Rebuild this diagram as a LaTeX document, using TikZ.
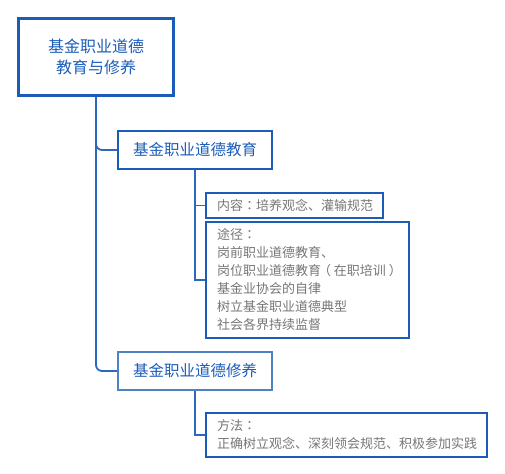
\documentclass[tikz,border=0pt]{standalone}
\usepackage{fontspec}
\newfontfamily\cjk{Noto Sans CJK SC}
\newfontfamily\cjkpunct{Noto Sans CJK TC}
\newcommand{\colonmark}{{\cjkpunct ：}}
\newcommand{\lparenmark}{\kern-0.22em（\kern0.22em}
\newcommand{\rparenmark}{\kern0.22em）\kern-0.22em}
\usetikzlibrary{positioning}
\definecolor{mainblue}{HTML}{1B5CB8}
\definecolor{lightblue}{HTML}{4F82C4}
\definecolor{linkblue}{HTML}{2E68BE}
\definecolor{leafgray}{HTML}{767676}
\tikzset{
  every node/.append style={font=\cjk},
  rootbox/.style={draw=mainblue, line width=3.2bp, text=mainblue, align=center,
    minimum width=155bp, minimum height=77bp, inner sep=0pt,
    font=\cjk\fontsize{16bp}{21bp}\selectfont},
  topicbox/.style={draw=mainblue, line width=2bp, text=mainblue,
    minimum width=154bp, minimum height=38bp, inner sep=0pt,
    font=\cjk\fontsize{15.5bp}{19bp}\selectfont},
  leafbox/.style={draw=mainblue, line width=2bp, text=leafgray, align=left,
    anchor=west, inner xsep=11bp, inner ysep=0pt,
    font=\cjk\fontsize{13bp}{18bp}\selectfont},
  link/.style={draw=linkblue, line width=1.8bp}
}

\begin{document}
\begin{tikzpicture}[x=1bp, y=-1bp]
\useasboundingbox (0,0) rectangle (505,474);
\node[rootbox] (root) at (96,57) {基金职业道德\\教育与修养};
\node[topicbox] (edu) at (195,150) {基金职业道德教育};
\node[topicbox, draw=lightblue] (cult) at (195,371) {基金职业道德修养};
\node[leafbox, text width=155bp, minimum height=25bp] (content) at (205,205.5)
  {内容\colonmark 培养观念、灌输规范};
\node[leafbox, text width=181bp, minimum height=116bp] (way) at (205,280)
  {途径\colonmark\\岗前职业道德教育、\\岗位职业道德教育\lparenmark 在职培训\rparenmark\\基金业协会的自律\\树立基金职业道德典型\\社会各界持续监督};
\node[leafbox, text width=259bp, minimum height=44bp] (method) at (205,435)
  {方法\colonmark\\正确树立观念、深刻领会规范、积极参加实践};
\draw[link, rounded corners=6bp] (root.south) |- (edu.west);
\draw[link, rounded corners=6bp] (root.south) |- (cult.west);
\draw[link] (edu.south) |- (content.west);
\draw[link] (edu.south) |- (way.west);
\draw[link] (cult.south) |- (method.west);
\end{tikzpicture}
\end{document}
